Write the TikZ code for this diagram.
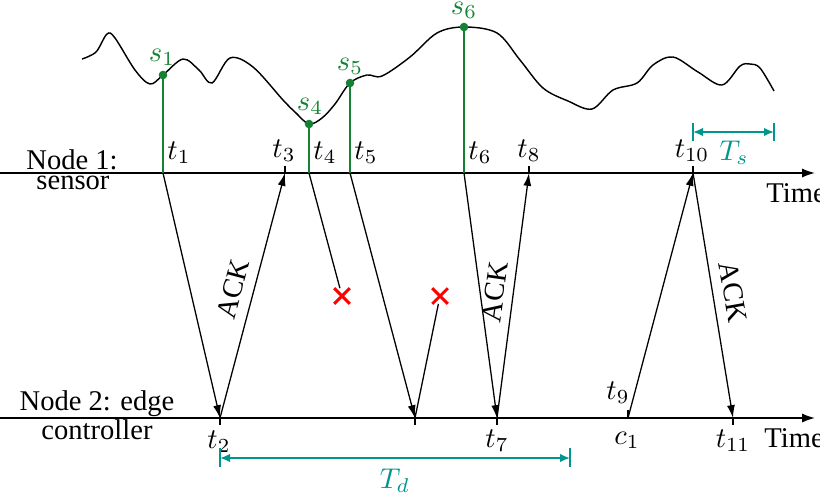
\documentclass[tikz,border=0pt]{standalone}
\usepackage{fontspec}
\setmainfont{Liberation Serif}
\usetikzlibrary{arrows.meta,shapes.misc}
\definecolor{sgreen}{RGB}{20,130,50}
\definecolor{tealc}{RGB}{0,150,140}
\begin{document}
\begin{tikzpicture}[x=0.35pt,y=-0.35pt,
  axis/.style={line width=0.6pt,-{Latex[length=4.5pt,width=3.2pt]}},
  msg/.style={line width=0.45pt,-{Latex[length=4.5pt,width=2.8pt]}},
  plain/.style={line width=0.45pt},
  samp/.style={sgreen,line width=0.6pt},
  sdot/.style={circle,fill=sgreen,inner sep=0pt,minimum size=3pt},
  slbl/.style={text=sgreen,inner sep=1pt},
  lbl/.style={inner sep=1pt},
  tickm/.style={line width=0.6pt},
  dimline/.style={tealc,line width=0.6pt,{Latex[length=3.5pt,width=3pt]}-{Latex[length=3.5pt,width=3pt]}},
  dimbar/.style={tealc,line width=0.6pt},
  lost/.style={cross out,draw=red,line width=1pt,minimum size=4.5pt,inner sep=0pt},
  ack/.style={inner sep=1pt}]
\useasboundingbox (0,0) rectangle (820,493);

% axes
\coordinate (a1s) at (0,173); \coordinate (a1e) at (815,173);
\coordinate (a2s) at (0,418); \coordinate (a2e) at (815,418);
\draw[axis] (a1s) -- (a1e);
\draw[axis] (a2s) -- (a2e);

% signal curve
\draw[line width=0.5pt] plot[smooth,tension=0.55] coordinates {
 (82,59) (96,52) (107,34) (115,38) (135,70) (150,84) (163,75) (183,59)
 (199,70) (212,83) (230,58) (253,67) (283,100) (296,113) (309,124)
 (322,118) (335,104) (350,83) (367,75) (382,76) (410,57) (437,33)
 (464,27) (497,33) (520,60) (543,88) (568,101) (592,109) (613,90)
 (637,83) (653,65) (673,57) (698,72) (722,85) (740,66) (750,64)
 (760,68) (774,91)};

% event points
\coordinate (t1) at (163,173);
\coordinate (t3) at (285,173);
\coordinate (t4) at (309,173);
\coordinate (t5) at (350,173);
\coordinate (t6) at (464,173);
\coordinate (t8) at (529,173);
\coordinate (t10) at (693,173);
\coordinate (t2) at (220,418);
\coordinate (r5) at (415,418);
\coordinate (t7) at (497,418);
\coordinate (c1) at (628,418);
\coordinate (t11) at (733,418);

% samples
\node[sdot] (s1) at (163,75) {};
\node[sdot] (s4) at (309,124) {};
\node[sdot] (s5) at (350,83) {};
\node[sdot] (s6) at (464,27) {};
\draw[samp] (s1.center) -- (t1);
\draw[samp] (s4.center) -- (t4);
\draw[samp] (s5.center) -- (t5);
\draw[samp] (s6.center) -- (t6);
\node[slbl] (ls1) at (162,57) {$s_1$};
\node[slbl] (ls4) at (310,106) {$s_4$};
\node[slbl] (ls5) at (350,66) {$s_5$};
\node[slbl] (ls6) at (464,10) {$s_6$};

% ticks
\foreach \p in {t3,t8,t10}{\draw[tickm] (\p) -- ++(0,-7);}
\foreach \p in {t2,t7,t11}{\draw[tickm] (\p) -- ++(0,7);}
\draw[tickm] (c1) -- ++(0,-8);
\draw[tickm] (r5) ++(0,-5) -- ++(0,12);

% messages
\draw[msg] (t1) -- (t2);
\draw[msg] (t2) -- (t3);
\node[lost] (x1) at (342,296) {};
\draw[plain] (t4) -- (x1);
\draw[msg] (t5) -- (r5);
\node[lost] (x2) at (440,296) {};
\draw[plain] (r5) -- (x2);
\draw[msg] (t6) -- (t7);
\draw[msg] (t7) -- (t8);
\draw[msg] (c1) -- (t10);
\draw[msg] (t10) -- (t11);

\node[ack,rotate=75] (ack1) at (233,289) {ACK};
\node[ack,rotate=82] (ack2) at (495,292) {ACK};
\node[ack,rotate=-80] (ack3) at (733,292) {ACK};

% time labels
\node[lbl] (lt1) at (179,153) {$t_1$};
\node[lbl] (lt3) at (284,151) {$t_3$};
\node[lbl] (lt4) at (325,153) {$t_4$};
\node[lbl] (lt5) at (366,153) {$t_5$};
\node[lbl] (lt6) at (480,153) {$t_6$};
\node[lbl] (lt8) at (529,151) {$t_8$};
\node[lbl] (lt10) at (692,151) {$t_{10}$};
\node[lbl] (lt2) at (219,442) {$t_2$};
\node[lbl] (lt7) at (497,441) {$t_7$};
\node[lbl] (lc1) at (627,440) {$c_1$};
\node[lbl] (lt11) at (733,441) {$t_{11}$};
\node[lbl] (lt9) at (618,393) {$t_9$};

% axis names
\node[lbl] (n1a) at (72,160) {Node 1:};
\node[lbl] (n1b) at (73,183) {sensor};
\node[lbl] (n2a) at (97,404) {Node 2: edge};
\node[lbl] (n2b) at (97,430) {controller};
\node[lbl,anchor=west] (time1) at (763,193) {Time};
\node[lbl,anchor=west] (time2) at (761,438) {Time};

% Ts
\coordinate (ts1) at (693,132); \coordinate (ts2) at (774,132);
\draw[dimbar] (693,123) -- (693,141);
\draw[dimbar] (774,123) -- (774,141);
\draw[dimline] (ts1) -- (ts2);
\node[lbl,text=tealc] (lts) at (734,153) {$T_s$};

% Td
\coordinate (td1) at (220,458); \coordinate (td2) at (570,458);
\draw[dimbar] (220,448) -- (220,467);
\draw[dimbar] (570,448) -- (570,467);
\draw[dimline] (td1) -- (td2);
\node[lbl,text=tealc] (ltd) at (395,481) {$T_d$};
\end{tikzpicture}
\end{document}
